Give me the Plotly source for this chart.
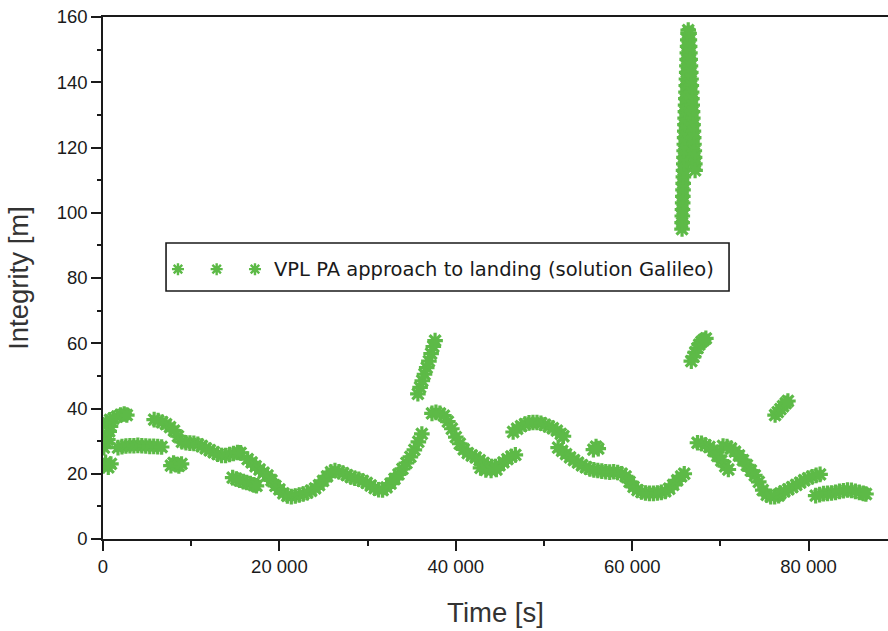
import plotly.graph_objects as go

# VPL (precision approach) computed from the Galileo solution, one list pair per run of points
run01_t = [0, 300, 600, 900]
run01_v = [22.5, 23.5, 22.0, 23.0]
run02_t = [100, 250, 400, 550, 700, 850]
run02_v = [28.0, 30.0, 32.0, 30.5, 33.0, 34.5]
run03_t = [0, 400, 800, 1200, 1600, 2000, 2400, 2700]
run03_v = [35.0, 35.8, 36.5, 37.0, 37.5, 38.0, 38.3, 38.0]
run04_t = [1700, 2150, 2600, 3050, 3500, 3950, 4400, 4850, 5300, 5750, 6200, 6650]
run04_v = [28.0, 28.3, 28.5, 28.6, 28.6, 28.7, 28.6, 28.5, 28.4, 28.4, 28.3, 28.2]
run05_t = [5800, 6250, 6700, 7150, 7600, 8050, 8500, 8950, 9400, 9850, 10300, 10750,
           11200, 11650, 12100, 12550, 13000, 13450, 13900, 14350, 14800, 15250, 15600]
run05_v = [36.6, 36.3, 35.8, 35.2, 34.3, 33.2, 31.5, 29.8, 29.5, 29.4, 29.3, 29.0,
           28.5, 27.8, 27.2, 26.6, 26.0, 25.6, 25.6, 25.9, 26.2, 26.5, 26.4]
run06_t = [7700, 8000, 8300, 8600, 8900]
run06_v = [22.5, 23.3, 22.8, 22.4, 23.0]
run07_t = [14700, 15100, 15500, 15900, 16300, 16700, 17100, 17400]
run07_v = [18.8, 18.4, 18.0, 17.6, 17.3, 17.0, 16.6, 16.3]
run08_t = [16400, 16850, 17300, 17750, 18200, 18650, 19100, 19550, 20000, 20450,
           20900, 21350, 21800, 22250, 22700, 23150, 23600, 24050, 24500, 24950,
           25400, 25850, 26300, 26750, 27200, 27650, 28100, 28550, 29000, 29450,
           29900, 30350, 30800, 31250, 31700, 32150, 32600, 33050, 33500, 33950,
           34400, 34850, 35300, 35750, 36150]
run08_v = [24.5, 23.5, 22.3, 21.3, 20.3, 19.5, 18.0, 16.3, 15.2, 14.0,
           13.2, 13.0, 13.2, 13.5, 13.8, 14.2, 14.8, 15.5, 16.5, 17.8,
           19.2, 20.5, 21.0, 20.6, 20.2, 19.6, 19.0, 18.6, 18.3, 17.8,
           17.2, 16.4, 15.6, 15.1, 15.0, 15.8, 17.0, 18.4, 19.8, 21.5,
           23.3, 25.2, 27.3, 29.8, 32.2]
run09_t = [35700, 35950, 36200, 36450, 36700, 36950, 37200, 37450, 37650]
run09_v = [44.5, 46.5, 48.5, 50.5, 52.5, 54.5, 56.8, 59.0, 60.8]
run10_t = [37300, 37750, 38200, 38650, 39100, 39550, 40000, 40450, 40900, 41350, 41800,
           42250, 42700, 43150, 43600, 44050, 44500, 44950, 45400, 45850, 46300, 46750,
           42800, 43400, 44000, 44600]
run10_v = [38.5, 38.8, 38.5, 37.8, 36.0, 33.8, 31.2, 29.2, 27.5, 26.3, 25.6,
           25.0, 24.2, 23.3, 22.6, 22.2, 22.2, 22.6, 23.5, 24.5, 25.3, 25.8,
           21.8, 21.2, 21.0, 21.3]
run11_t = [46500, 46950, 47400, 47850, 48300, 48750, 49200, 49650, 50100, 50550,
           51000, 51450, 51900, 52200]
run11_v = [32.8, 33.8, 34.6, 35.2, 35.6, 35.7, 35.7, 35.5, 35.0, 34.5,
           34.0, 33.2, 32.2, 31.5]
run12_t = [51600, 52050, 52500, 52950, 53400, 53850, 54300, 54750, 55200, 55650,
           56100, 56550, 57000, 57450, 57900, 58350, 58800, 59250, 59700, 60150,
           60600, 61050, 61500, 61950, 62400, 62850, 63300, 63750, 64200, 64650,
           65100, 65550, 65900]
run12_v = [28.0, 27.0, 26.0, 25.0, 24.2, 23.4, 22.6, 22.0, 21.5, 21.2,
           21.0, 20.8, 20.6, 20.5, 20.6, 20.4, 20.0, 19.2, 17.5, 16.0,
           15.0, 14.4, 14.1, 14.0, 14.0, 14.1, 14.3, 14.6, 15.4, 16.6,
           18.0, 19.2, 20.0]
run13_t = [55600, 55900, 56150]
run13_v = [27.4, 28.3, 27.7]
run14_t = [65650, 65660, 65680, 65700, 65720, 65740, 65760, 65780, 65800, 65820,
           65850, 65870, 65890, 65910, 65940, 65960, 65980, 66000, 66030, 66050,
           66080, 66100, 66130, 66150, 66180, 66200, 66230, 66250, 66280, 66300,
           66330, 66350]
run14_v = [95, 97, 99, 101, 103, 105, 107, 109, 111, 113,
           115, 117, 119, 121, 123, 125, 127, 129, 131, 133,
           135, 137, 139, 141, 143, 145, 147, 149, 151, 153,
           155, 156]
run15_t = [66450, 66480, 66510, 66540, 66570, 66600, 66640, 66670, 66700, 66740,
           66770, 66800, 66840, 66870, 66900, 66940, 66970, 67000, 67040, 67070,
           67100, 67130]
run15_v = [155, 153, 151, 149, 147, 145, 143, 141, 139, 137,
           135, 133, 131, 129, 127, 125, 123, 121, 119, 117,
           115, 113]
run16_t = [66700, 66950, 67150, 67400, 67600, 67850, 68100, 68350]
run16_v = [54.5, 55.8, 57.2, 58.5, 59.6, 60.4, 61.0, 61.5]
run17_t = [67400, 67850, 68300, 68750, 69200, 69650, 70100, 70550, 70900]
run17_v = [29.5, 29.3, 28.8, 28.2, 27.0, 25.5, 24.0, 22.3, 21.3]
run18_t = [70300, 70750, 71200, 71650, 72100, 72550, 73000, 73450, 73900, 74350,
           74800, 75250, 75700, 76150, 76600]
run18_v = [28.5, 28.3, 27.8, 26.8, 25.6, 24.2, 22.6, 21.0, 19.5, 17.5,
           15.0, 13.5, 13.0, 13.0, 13.3]
run19_t = [76800, 77250, 77700, 78150, 78600, 79050, 79500, 79950, 80400, 80850, 81300]
run19_v = [14.0, 14.6, 15.2, 15.9, 16.6, 17.3, 18.0, 18.6, 19.1, 19.5, 19.8]
run20_t = [76200, 76500, 76800, 77100, 77400, 77650]
run20_v = [38.0, 38.9, 39.8, 40.7, 41.6, 42.3]
run21_t = [80800, 81250, 81700, 82150, 82600, 83050, 83500, 83950, 84400, 84850,
           85300, 85750, 86200, 86500]
run21_v = [13.3, 13.6, 13.9, 14.0, 14.1, 14.3, 14.6, 14.8, 15.0, 14.9,
           14.6, 14.3, 14.0, 13.8]

x_tick_vals = [0, 20000, 40000, 60000, 80000]
x_tick_text = ["0", "20 000", "40 000", "60 000", "80 000"]
y_tick_vals = [0, 20, 40, 60, 80, 100, 120, 140, 160]
y_tick_text = ["0", "20", "40", "60", "80", "100", "120", "140", "160"]

series_name = "VPL PA approach to landing (solution Galileo)"
GREEN = "#5DBA47"
INK = "#1a1a1a"
TICK_FONT = dict(family="Liberation Sans, Arial, sans-serif", size=18.5, color=INK)
TITLE_FONT = dict(family="Liberation Sans, Arial, sans-serif", size=27.5, color="#333333")

runs = [
    (run01_t, run01_v), (run02_t, run02_v), (run03_t, run03_v), (run04_t, run04_v),
    (run05_t, run05_v), (run06_t, run06_v), (run07_t, run07_v), (run08_t, run08_v),
    (run09_t, run09_v), (run10_t, run10_v), (run11_t, run11_v), (run12_t, run12_v),
    (run13_t, run13_v), (run14_t, run14_v), (run15_t, run15_v), (run16_t, run16_v),
    (run17_t, run17_v), (run18_t, run18_v), (run19_t, run19_v), (run20_t, run20_v),
    (run21_t, run21_v),
]
time_s = [t for ts, _ in runs for t in ts]
vpl_m = [v for _, vs in runs for v in vs]

star = dict(symbol="asterisk", size=13, color=GREEN, line=dict(color=GREEN, width=3.2))

fig = go.Figure()
fig.add_trace(go.Scatter(x=time_s, y=vpl_m, mode="markers", marker=star,
                         name=series_name, hoverinfo="x+y"))

# boxed key: three sample stars followed by the series name
key_x = [0.0955, 0.1448, 0.1936]
key_y = [0.517, 0.517, 0.517]
fig.add_trace(go.Scatter(x=key_x, y=key_y, xaxis="x2", yaxis="y2", mode="markers",
                         marker=dict(star, size=10, line=dict(color=GREEN, width=2.4)),
                         hoverinfo="skip", showlegend=False))
fig.add_shape(type="rect", xref="paper", yref="paper", x0=0.0803, x1=0.7975,
              y0=0.475, y1=0.567, line=dict(color=INK, width=1.6), fillcolor="white",
              layer="below")
fig.add_annotation(x=0.2149, y=0.517, xref="paper", yref="paper", xanchor="left",
                   yanchor="middle", showarrow=False, text=series_name,
                   font=dict(family="DejaVu Sans, Verdana, sans-serif", size=19.5, color=INK))

fig.update_layout(
    width=888, height=631,
    margin=dict(l=103, r=0, t=17, b=92),
    plot_bgcolor="white", paper_bgcolor="white",
    showlegend=False,
    xaxis=dict(range=[0, 89000], showline=True, linecolor=INK, linewidth=1.6, mirror=True,
               ticks="outside", ticklen=10, tickwidth=1.5, tickcolor=INK,
               tickvals=x_tick_vals, ticktext=x_tick_text, tickfont=TICK_FONT,
               minor=dict(ticks="outside", ticklen=5, tickwidth=1.5, tickcolor=INK,
                          tick0=0, dtick=10000),
               showgrid=False, zeroline=False,
               title=dict(text="Time [s]", font=TITLE_FONT, standoff=27)),
    yaxis=dict(range=[0, 160], showline=True, linecolor=INK, linewidth=1.6,
               ticks="outside", ticklen=10, tickwidth=1.5, tickcolor=INK,
               tickvals=y_tick_vals, ticktext=y_tick_text, tickfont=TICK_FONT,
               minor=dict(ticks="outside", ticklen=4, tickwidth=1.5, tickcolor=INK,
                          tick0=0, dtick=10),
               showgrid=False, zeroline=False,
               title=dict(text="Integrity [m]", font=TITLE_FONT, standoff=20)),
    xaxis2=dict(range=[0, 1], overlaying="x", visible=False, fixedrange=True),
    yaxis2=dict(range=[0, 1], overlaying="y", visible=False, fixedrange=True),
)

fig.write_html("out.html")
